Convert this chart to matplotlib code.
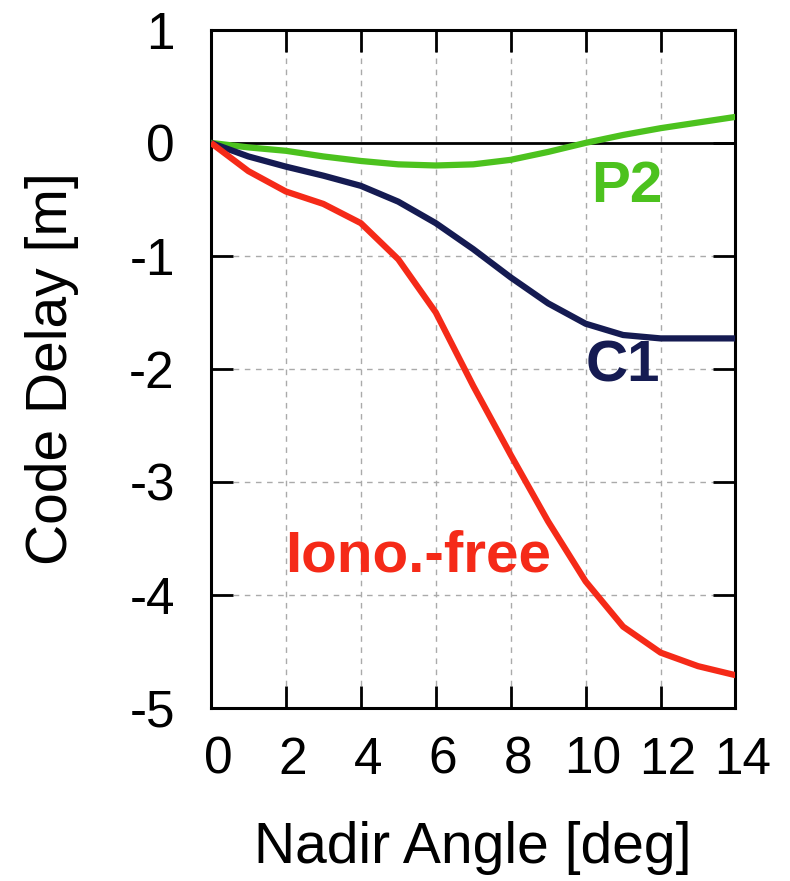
import matplotlib
matplotlib.use("Agg")
from matplotlib import pyplot as plt
from matplotlib.transforms import ScaledTranslation

plt.rcParams["font.family"] = ["Liberation Sans", "DejaVu Sans"]
plt.rcParams["axes.unicode_minus"] = False

# nadir angle [deg] and code delay [m]
nadir = [0, 1, 2, 3, 4, 5, 6, 7, 8, 9, 10, 11, 12, 13, 14]
c1 = [0, -0.12, -0.21, -0.29, -0.38, -0.52, -0.71, -0.94, -1.19, -1.42, -1.60, -1.70, -1.73, -1.73, -1.73]
p2 = [0, -0.04, -0.07, -0.12, -0.16, -0.19, -0.20, -0.19, -0.15, -0.08, 0.0, 0.07, 0.13, 0.18, 0.23]
iono_free = [0, -0.25, -0.43, -0.54, -0.71, -1.03, -1.50, -2.15, -2.76, -3.35, -3.88, -4.28, -4.51, -4.63, -4.71]

xticks = [0, 2, 4, 6, 8, 10, 12, 14]
yticks = [1, 0, -1, -2, -3, -4, -5]

green = "#4cc21e"
navy = "#151b52"
red = "#f52a18"

fig = plt.figure(figsize=(7.9, 8.81), dpi=100)
ax = fig.add_axes([0.267, 0.1964, 0.664, 0.7697])

# light dashed grid, only the inner lines
for x in xticks[1:-1]:
    ax.axvline(x, color="#aaaaaa", lw=1, ls=(0, (4, 4)), zorder=0)
for y in yticks[2:-1]:
    ax.axhline(y, color="#aaaaaa", lw=1, ls=(0, (4, 4)), zorder=0)
ax.axhline(0, color="black", lw=2, zorder=1)

ax.plot(nadir, p2, color=green, lw=4.5, solid_capstyle="butt", zorder=3)
ax.plot(nadir, c1, color=navy, lw=4.5, solid_capstyle="butt", zorder=3)
ax.plot(nadir, iono_free, color=red, lw=4.5, solid_capstyle="butt", zorder=3)

ax.text(11.1, -0.39, "P2", color=green, fontsize=42, fontweight="bold", ha="center", va="center")
ax.text(11.0, -1.98, "C1", color=navy, fontsize=42, fontweight="bold", ha="center", va="center")
ax.text(5.53, -3.66, "Iono.-free", color=red, fontsize=42, fontweight="bold", ha="center", va="center")

ax.set_xlim(0, 14)
ax.set_ylim(-5, 1)
ax.set_xticks(xticks)
ax.set_yticks(yticks)
ax.tick_params(direction="in", length=16, width=2, labelsize=37, top=True, right=True)
ax.tick_params(axis="x", pad=20)
ax.tick_params(axis="y", pad=26)
for s in ax.spines.values():
    s.set_linewidth(2.2)

# x tick labels sit a little right of their ticks in the original
shift = ScaledTranslation(7 / 100, 0, fig.dpi_scale_trans)
for lab in ax.get_xticklabels():
    lab.set_transform(lab.get_transform() + shift)

ax.set_xlabel("Nadir Angle [deg]", fontsize=41, labelpad=26)
ax.set_ylabel("Code Delay [m]", fontsize=41, labelpad=36)

fig.savefig("out.png", dpi=100)
